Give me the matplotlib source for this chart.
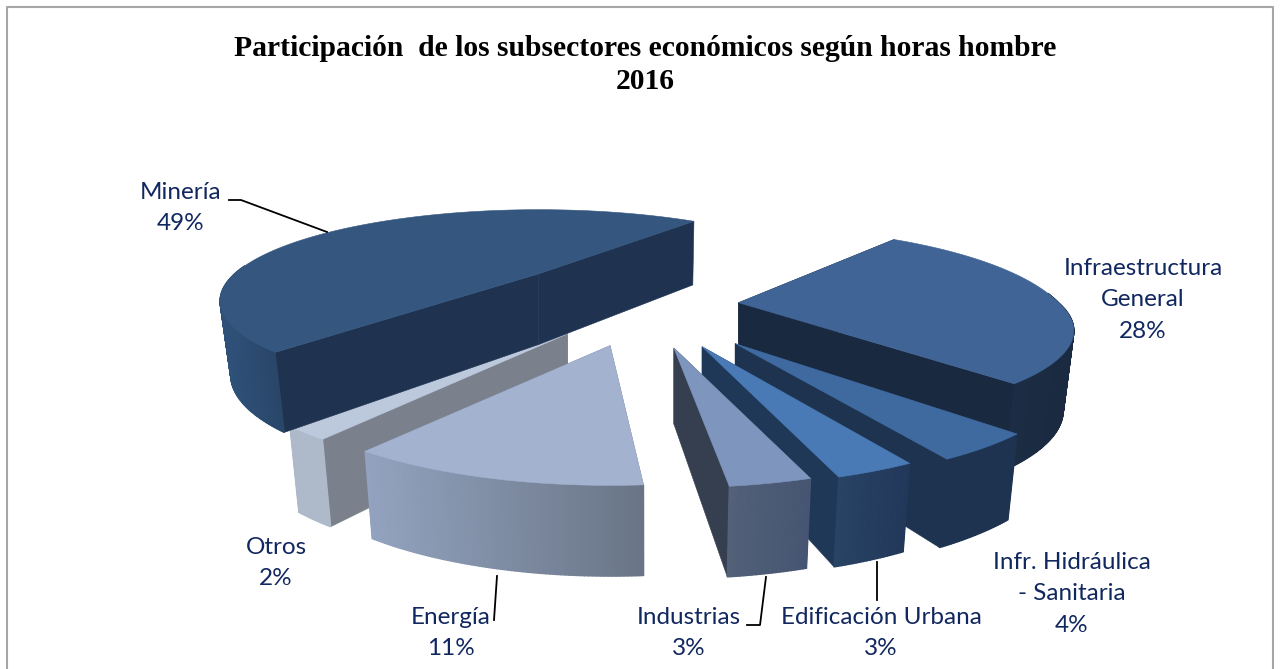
import numpy as np
import matplotlib
matplotlib.use('Agg')
import matplotlib.pyplot as plt
from matplotlib.colors import to_rgb
from matplotlib.patches import Polygon

# clockwise from the top right, like the original pie
names = ['Infraestructura\nGeneral', 'Infr. Hidráulica\n- Sanitaria', 'Edificación Urbana',
         'Industrias', 'Energía', 'Otros', 'Minería']
shares = [28, 4, 3, 3, 11, 2, 49]

explode = [0.28, 0.44, 0.42, 0.41, 0.4, 0.37, 0.5]
nudge = [2, 3.5, 2.8, 2.8, 0, 0, 0]
rim_x = [1, 1, 1, 1, 1, 1, 0.95]
rim_back = [1, 1, 1, 1, 1, 1, 0.85]
rim_front = [0.87, 1, 1, 1, 1, 1, 0.85]
depth_scale = [1, 1, 1, 1, 1, 1, 0.93]
top_colors = ['#406496', '#3f6aa0', '#4a7ab5', '#7e96be', '#a2b2cf', '#bcc8dc', '#34567f']
wall_colors = ['#19293f', '#1e3350', '#1f3858', '#353f50', '#6f7889', '#7a808c', '#1f3350']
rim_left = ['#1b2c44', '#1e3350', '#284364', '#526078', '#93a3bf', '#aeb9ca', '#2f5179']
rim_right = ['#1a2a40', '#1e3350', '#22385a', '#465571', '#697486', '#aeb9ca', '#294668']
draw_order = [5, 6, 0, 1, 2, 3, 4]
label_pos = [(1143, 300), (1072, 594), (881, 633), (689, 633), (451, 633), (276, 563), (181, 208)]
leaders = {2: [(877, 562), (877, 600)],
           3: [(766, 577), (760, 625), (747, 625)],
           4: [(497, 576), (494, 620)],
           6: [(229, 200), (241, 200), (327, 232)]}

start_angle = 51.0
cx, cy = 649, 303
A, B, P = 320, 98, 0.2985
depth = 76


def project(u, v):
    w = 1 + P * v
    return A * u / w, B * v / w


fig = plt.figure(figsize=(12.81, 6.69), dpi=100)
ax = fig.add_axes([0, 0, 1, 1])
ax.set_xlim(0, 1281)
ax.set_ylim(669, 0)
ax.axis('off')

ax.plot([7, 7, 1273, 1273], [669, 7, 7, 669], color='#a6a6a6', lw=1.5)


def add_poly(points, color, z, lw=0.4):
    ax.add_patch(Polygon(points, closed=True, facecolor=color, edgecolor=color, lw=lw, zorder=z))


edges = start_angle - np.cumsum([0] + shares) * 3.6
for i in draw_order:
    a0, a1 = edges[i] + nudge[i], edges[i + 1] + nudge[i]
    mid = np.radians((edges[i] + edges[i + 1]) / 2)
    dx, dy = project(explode[i] * np.cos(mid), explode[i] * np.sin(mid))
    ax0, ay0 = cx + dx, cy - dy

    angles = np.radians(np.linspace(a0, a1, max(int(a0 - a1), 2) * 2 + 1))
    us, vs = np.cos(angles), np.sin(angles)
    wx, wy = project(us, vs)
    top_x = ax0 + wx * rim_x[i]
    top_y = ay0 - wy * np.where(vs > 0, rim_back[i], rim_front[i])
    thick = depth * depth_scale[i] / np.sqrt(1 + P * vs)
    bot_x = top_x - 0.025 * (top_x - cx)
    bot_y = top_y + thick

    z = draw_order.index(i) * 10 + 3
    # radial walls first, then the rim, then the top face
    for k in (0, -1):
        add_poly([(ax0, ay0), (top_x[k], top_y[k]), (bot_x[k], bot_y[k]), (ax0, ay0 + depth * depth_scale[i])],
                 wall_colors[i], z)
    front = np.where(vs < 0.1)[0]
    if len(front) > 1:
        xmin, xmax = top_x[front].min(), top_x[front].max()
        left, right = np.array(to_rgb(rim_left[i])), np.array(to_rgb(rim_right[i]))
        for j, k in zip(front[:-1], front[1:]):
            t = ((top_x[j] + top_x[k]) / 2 - xmin) / max(xmax - xmin, 1)
            add_poly([(top_x[j], top_y[j]), (top_x[k], top_y[k]), (bot_x[k], bot_y[k]), (bot_x[j], bot_y[j])],
                     left + (right - left) * t, z + 1, lw=1.0)
    add_poly(list(zip(top_x, top_y)) + [(ax0, ay0)], top_colors[i], z + 2)

for i in range(len(names)):
    ax.text(label_pos[i][0], label_pos[i][1], f'{names[i]}\n{shares[i]}%', ha='center', va='center',
            family='Lato', fontsize=17.5, color='#11275f', linespacing=1.62, zorder=100)

for pts in leaders.values():
    ax.plot([p[0] for p in pts], [p[1] for p in pts], color='black', lw=1.3, zorder=99)

ax.text(645, 65, 'Participación  de los subsectores económicos según horas hombre\n2016', ha='center',
        va='center', family='Liberation Serif', fontweight='bold', fontsize=21.3, color='black', linespacing=1.3)

fig.savefig('out.png', dpi=100)
